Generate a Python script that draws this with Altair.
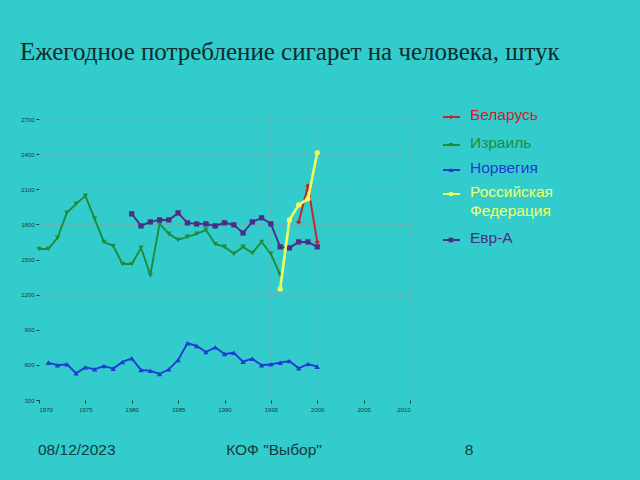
import altair as alt
import pandas as pd

# ---- data ----
countries = ["Беларусь", "Израиль", "Норвегия", "Российская Федерация", "Евр-А"]
colors = ["#C8232B", "#1E8C3C", "#1E3CD2", "#EEFF5A", "#4B2D87"]
shapes = ["diamond", "triangle-down", "triangle-up", "circle", "square"]

belarus_years = [1998, 1999, 2000]
belarus = [1821, 2129, 1650]

israel_years = list(range(1970, 1997))
israel = [1590, 1590, 1685, 1898, 1975, 2044, 1847, 1650, 1616, 1462, 1462, 1599,
          1368, 1804, 1719, 1668, 1693, 1719, 1753, 1633, 1608, 1548, 1608, 1556,
          1650, 1548, 1368]

norway_years = list(range(1971, 2001))
norway = [619, 597, 605, 528, 579, 562, 591, 568, 625, 656, 556, 550, 522, 562, 642,
          785, 762, 710, 750, 693, 704, 627, 653, 597, 605, 619, 633, 571, 608, 585]

russia_years = [1996, 1997, 1998, 1999, 2000]
russia = [1249, 1838, 1967, 2018, 2411]

eura_years = list(range(1980, 2001))
eura = [1890, 1787, 1821, 1838, 1838, 1898, 1813, 1804, 1804, 1787, 1813, 1796, 1727,
        1821, 1856, 1804, 1608, 1599, 1650, 1650, 1608]

x_ticks = [1970, 1975, 1980, 1985, 1990, 1995, 2000, 2005, 2010]
y_ticks = [300, 600, 900, 1200, 1500, 1800, 2100, 2400, 2700]
h_grid = [1200, 1500, 1800, 2100, 2400, 2700]
v_grid = [1995, 2000, 2005, 2010]

title_text = "Ежегодное потребление сигарет на человека, штук"
footer_date = "08/12/2023"
footer_mid = 'КОФ "Выбор"'
footer_page = "8"

series = [
    (countries[0], belarus_years, belarus),
    (countries[1], israel_years, israel),
    (countries[2], norway_years, norway),
    (countries[3], russia_years, russia),
    (countries[4], eura_years, eura),
]
rows = []
for name, yrs, vals in series:
    for yr, v in zip(yrs, vals):
        rows.append({"year": yr, "value": v, "country": name})
df = pd.DataFrame(rows)

W, H = 371, 281
BG = "#33CCCC"
DARK = "#163a3c"
GRID = "#8a9e9e"

xs = alt.Scale(domain=[1970, 2010], nice=False, zero=False)
ys = alt.Scale(domain=[300, 2700], nice=False, zero=False)
cs = alt.Scale(domain=countries, range=colors)
ss = alt.Scale(domain=countries, range=shapes)

x_axis = alt.Axis(values=x_ticks, format="d", labelFontSize=6, grid=False, domain=False,
                  tickSize=3, tickColor=DARK, labelColor=DARK, title=None, labelPadding=3,
                  labelFont="Liberation Sans")
y_axis = alt.Axis(values=y_ticks, format="d", labelFontSize=6, grid=False, domain=False,
                  tickSize=3, tickColor=DARK, labelColor=DARK, title=None, labelPadding=2,
                  labelFont="Liberation Sans")

hgrid = alt.Chart(pd.DataFrame({"v": h_grid})).mark_rule(
    color=GRID, strokeDash=[2, 2], strokeWidth=1
).encode(y=alt.Y("v:Q", scale=ys, axis=y_axis), x=alt.value(0), x2=alt.value(W))

vgrid = alt.Chart(pd.DataFrame({"yr": v_grid})).mark_rule(
    color=GRID, strokeDash=[2, 2], strokeWidth=1
).encode(x=alt.X("yr:Q", scale=xs, axis=x_axis), y=alt.value(0), y2=alt.value(H))

order_draw = [countries[2], countries[1], countries[4], countries[0], countries[3]]
layers = [hgrid, vgrid]
for name in order_draw:
    sub = df[df["country"] == name]
    base = alt.Chart(sub).encode(
        x=alt.X("year:Q", scale=xs, axis=x_axis),
        y=alt.Y("value:Q", scale=ys, axis=y_axis),
        color=alt.Color("country:N", scale=cs, legend=None),
    )
    sw = 2.6 if name == countries[3] else 1.9
    layers.append(base.mark_line(strokeWidth=sw))
    layers.append(base.mark_point(filled=True, size=28, opacity=1).encode(
        shape=alt.Shape("country:N", scale=ss, legend=None)))

# ---- manual legend ----
legend_y = [-2, 26, 51, 75, 121]
leg_df = pd.DataFrame({"country": countries})
for i, name in enumerate(countries):
    one = leg_df[leg_df["country"] == name]
    lb = alt.Chart(one).encode(color=alt.Color("country:N", scale=cs, legend=None))
    layers.append(lb.mark_rule(strokeWidth=2).encode(
        x=alt.value(404), x2=alt.value(421), y=alt.value(legend_y[i])))
    layers.append(lb.mark_point(filled=True, size=22, opacity=1).encode(
        x=alt.value(412), y=alt.value(legend_y[i]),
        shape=alt.Shape("country:N", scale=ss, legend=None)))
    label = name.replace(" ", "\n")
    layers.append(alt.Chart(one).mark_text(
        align="left", baseline="top", fontSize=15.5, font="Liberation Sans",
        lineBreak="\n", lineHeight=19, dy=-9, color=colors[i] if i != 3 else "#F2FF66"
    ).encode(x=alt.value(431), y=alt.value(legend_y[i]), text=alt.value(label)))

# ---- title & footer ----
def txt(s, x, y, size, font, align="left", color=DARK):
    return alt.Chart(pd.DataFrame({"t": [s]})).mark_text(
        align=align, baseline="middle", fontSize=size, font=font, color=color
    ).encode(x=alt.value(x), y=alt.value(y), text="t:N")

layers.append(txt(title_text, -19, -67, 25, "Liberation Serif", color="#0f2b2d"))
layers.append(txt(footer_date, -1, 331, 15.5, "Liberation Sans"))
layers.append(txt(footer_mid, 235, 331, 15.5, "Liberation Sans", align="center"))
layers.append(txt(footer_page, 430, 331, 15.5, "Liberation Sans", align="center"))

chart = alt.layer(*layers).resolve_scale(color="shared", shape="shared").properties(
    width=W, height=H, autosize="none",
    padding={"left": 39, "top": 119, "right": 640 - 39 - W, "bottom": 480 - 119 - H},
    background=BG,
).configure_view(stroke=None)

chart.save("out.html", embed_options={"renderer": "svg", "actions": False})
